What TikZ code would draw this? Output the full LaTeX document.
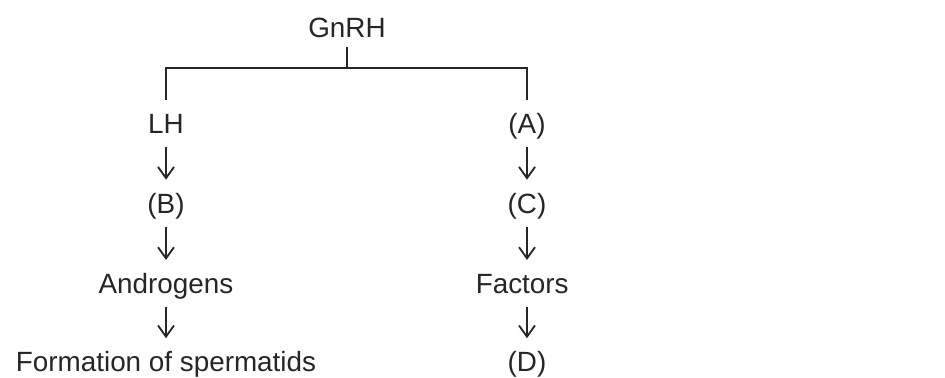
\documentclass[tikz,border=0pt]{standalone}
\usepackage{fontspec}
\setmainfont{Liberation Sans}
\usetikzlibrary{arrows.meta, positioning}

\begin{document}
\begin{tikzpicture}[
        x=0.025cm, y=0.025cm,
        node distance=1.5cm,
        lbl/.style={inner sep=0pt, text height=14pt, text depth=0pt, font=\fontsize{19.8}{23}\selectfont, text=black!85},
        link/.style={line width=1.4pt, black!85},
        arr/.style={-{Straight Barb[length=2.8mm, width=4mm]}, line width=1.3pt, black!85, shorten <=0.34cm, shorten >=0.34cm}
    ]
        \useasboundingbox (0,0) rectangle (945,377);

        % Top hormone
        \node[lbl, anchor=base] (gnrh) at (347,340) {GnRH};

        % Left branch
        \node[lbl, anchor=base] (lh) at (166,244) {LH};
        \node[lbl, below=of lh] (b) {(B)};
        \node[lbl, below=of b] (andro) {Androgens};
        \node[lbl, below=1.45cm of andro] (sperm) {Formation of spermatids};

        % Right branch
        \node[lbl, anchor=base] (a) at (527,244) {(A)};
        \node[lbl, below=of a] (c) {(C)};
        \node[lbl, below=of c, xshift=-0.12cm] (fact) {Factors};
        \node[lbl, anchor=base] (d) at (c |- sperm.base) {(D)};

        % Branching bracket
        \draw[link] ([yshift=-0.25cm]gnrh.south) -- ++(0,-21) coordinate (split);
        \draw[link] ([yshift=0.325cm]lh.north) |- (split) -| ([yshift=0.325cm]a.north);

        % Left arrows
        \draw[arr] (lh) -- (b);
        \draw[arr] (b) -- (andro);
        \draw[arr] (andro) -- (sperm);

        % Right arrows
        \draw[arr] (a) -- (c);
        \draw[arr] (c) -- (c |- fact.north);
        \draw[arr] (c |- fact.south) -- (d);
    \end{tikzpicture}
\end{document}
